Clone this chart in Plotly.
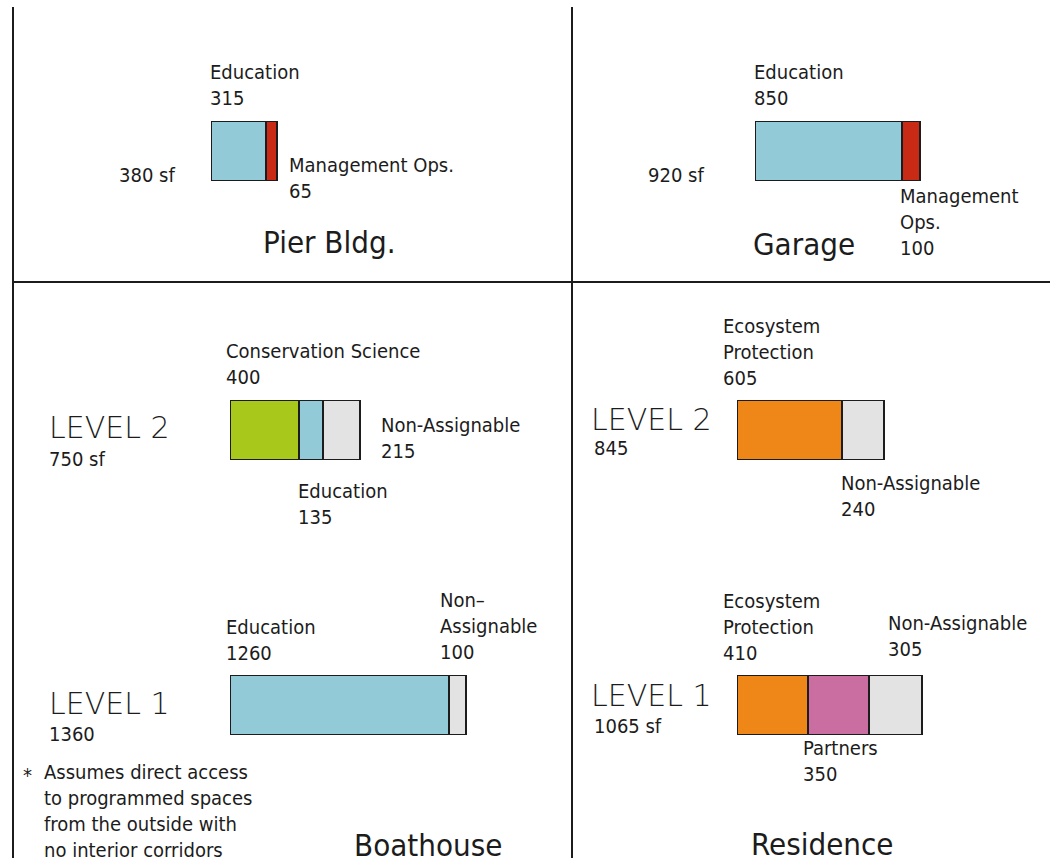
import plotly.graph_objects as go

# ---------------- data ----------------
pier_categories = ["Education", "Management Ops."]
pier_values = [315, 65]

garage_categories = ["Education", "Management Ops."]
garage_values = [850, 100]

boathouse_l2_categories = ["Conservation Science", "Education", "Non-Assignable"]
boathouse_l2_values = [400, 135, 215]

boathouse_l1_categories = ["Education", "Non-Assignable"]
boathouse_l1_values = [1260, 100]

residence_l2_categories = ["Ecosystem Protection", "Non-Assignable"]
residence_l2_values = [605, 240]

residence_l1_categories = ["Ecosystem Protection", "Partners", "Non-Assignable"]
residence_l1_values = [410, 350, 305]

total_labels = ["380 sf", "920 sf", "750 sf", "845", "1360", "1065 sf"]
building_names = ["Pier Bldg.", "Garage", "Boathouse", "Residence"]
level_names = ["LEVEL 2", "LEVEL 1"]
footnote = ["Assumes direct access", "to programmed spaces",
            "from the outside with", "no interior corridors"]

category_colors = {
    "Education": "#92CAD8",
    "Management Ops.": "#C92A16",
    "Conservation Science": "#A8C91C",
    "Non-Assignable": "#E3E3E3",
    "Ecosystem Protection": "#EE8618",
    "Partners": "#CA6EA2",
}

# ---------------- layout helpers ----------------
W, H = 1057, 866
PX_PER_SF = 0.1735
FONT = "DejaVu Sans Condensed"
INK = "#1c1c1c"


def px(x):
    return x / W


def py(y):
    return 1 - y / H


fig = go.Figure()

# bar placement (left pixel, top pixel, bottom pixel)
bars = [
    (pier_categories, pier_values, 211, 121, 181),
    (garage_categories, garage_values, 755, 121, 181),
    (boathouse_l2_categories, boathouse_l2_values, 230, 400, 460),
    (residence_l2_categories, residence_l2_values, 737, 400, 460),
    (boathouse_l1_categories, boathouse_l1_values, 230, 675, 735),
    (residence_l1_categories, residence_l1_values, 737, 675, 735),
]

layout_axes = {}
for i, (cats, vals, x0, ytop, ybot) in enumerate(bars, start=1):
    xa = "x" if i == 1 else f"x{i}"
    ya = "y" if i == 1 else f"y{i}"
    for c, v in zip(cats, vals):
        fig.add_trace(go.Bar(
            x=[v], y=[0], orientation="h", width=1,
            marker=dict(color=category_colors[c], line=dict(color=INK, width=2)),
            name=c, showlegend=False, hoverinfo="x+name",
            xaxis=xa, yaxis=ya,
        ))
    xkey = "xaxis" if i == 1 else f"xaxis{i}"
    ykey = "yaxis" if i == 1 else f"yaxis{i}"
    layout_axes[xkey] = dict(domain=[px(x0), 1], range=[0, (W - x0) / PX_PER_SF],
                             visible=False, anchor=ya, fixedrange=True)
    layout_axes[ykey] = dict(domain=[py(ybot), py(ytop)], range=[-0.5, 0.5],
                             visible=False, anchor=xa, fixedrange=True)

fig.update_layout(**layout_axes)
fig.update_layout(barmode="stack")

annotations = []


def label(text, x, top, size=20, weight=400, family=FONT, offset=None):
    if offset is None:
        offset = size * 0.28
    annotations.append(dict(
        text=text, x=px(x), y=py(top - offset), xref="paper", yref="paper",
        xanchor="left", yanchor="top", align="left", showarrow=False,
        font=dict(family=family, size=size, color=INK, weight=weight),
    ))


def two(cat_text, value):
    return f"{cat_text}<br>{value}"


LEVEL_SIZE = 30
LEVEL_FONT = "DejaVu Sans"

# Pier Bldg.
label(two("Education", pier_values[0]), 208, 64)
label(total_labels[0], 117, 167)
label(two("Management Ops.", pier_values[1]), 287, 157)
label(building_names[0], 261, 231, size=31)

# Garage
label(two("Education", garage_values[0]), 752, 64)
label(total_labels[1], 646, 167)
label(f"Management<br>Ops.<br>{garage_values[1]}", 898, 188)
label(building_names[1], 751, 233, size=31)

# Boathouse level 2
label(two("Conservation Science", boathouse_l2_values[0]), 224, 343)
label(level_names[0], 47, 416, size=LEVEL_SIZE, weight=200, family=LEVEL_FONT)
label(total_labels[2], 47, 451)
label(two("Non-Assignable", boathouse_l2_values[2]), 379, 417)
label(two("Education", boathouse_l2_values[1]), 296, 483)

# Residence level 2
label(f"Ecosystem<br>Protection<br>{residence_l2_values[0]}", 721, 318)
label(level_names[0], 589, 408, size=LEVEL_SIZE, weight=200, family=LEVEL_FONT)
label(total_labels[3], 592, 440)
label(two("Non-Assignable", residence_l2_values[1]), 839, 475)

# Boathouse level 1
label(two("Education", boathouse_l1_values[0]), 224, 619)
label(f"Non\u2013<br>Assignable<br>{boathouse_l1_values[1]}", 438, 592)
label(level_names[1], 47, 692, size=LEVEL_SIZE, weight=200, family=LEVEL_FONT)
label(total_labels[4], 47, 726)
label("*", 21, 767, size=20)
label("<br>".join(footnote), 42, 764, size=20)
label(building_names[2], 352, 834, size=31)

# Residence level 1
label(f"Ecosystem<br>Protection<br>{residence_l1_values[0]}", 721, 593)
label(two("Non-Assignable", residence_l1_values[2]), 886, 615)
label(level_names[1], 589, 684, size=LEVEL_SIZE, weight=200, family=LEVEL_FONT)
label(total_labels[5], 592, 718)
label(two("Partners", residence_l1_values[1]), 801, 740)
label(building_names[3], 749, 833, size=31)

# grid lines dividing the four buildings
line = dict(color=INK, width=2)
shapes = [
    dict(type="line", xref="paper", yref="paper", x0=px(13), x1=px(13), y0=py(7), y1=py(858), line=line),
    dict(type="line", xref="paper", yref="paper", x0=px(572), x1=px(572), y0=py(7), y1=py(858), line=line),
    dict(type="line", xref="paper", yref="paper", x0=px(13), x1=px(1050), y0=py(282), y1=py(282), line=line),
]

fig.update_layout(
    width=W, height=H, margin=dict(l=0, r=0, t=0, b=0),
    paper_bgcolor="white", plot_bgcolor="white",
    annotations=annotations, shapes=shapes, showlegend=False,
)

fig.write_html(
    "out.html",
    config={"displayModeBar": False},
    post_script="document.body.style.margin='0';document.body.style.overflow='hidden';",
)
